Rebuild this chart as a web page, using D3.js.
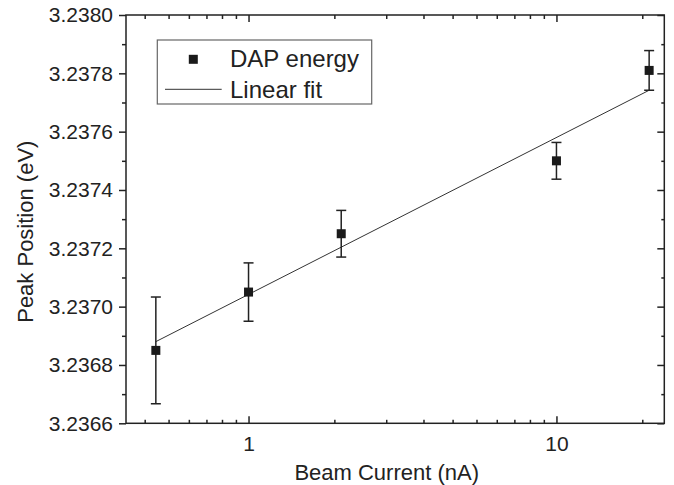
<!DOCTYPE html>
<html lang="en">

<head>
  <meta charset="UTF-8">
  <title>Peak Position vs Beam Current</title>
  <script type="text/javascript" src="https://d3js.org/d3.v7.min.js"></script>
  <style>
    body { margin: 0; background: #fff; }
    text { font-family: "Liberation Sans", Arial, sans-serif; fill: #222; }
  </style>
</head>

<body>
  <svg width="674" height="485"></svg>
  <script>

    // data
    var current = [0.5, 1, 2, 10, 20];                               // nA
    var peak = [3.23685, 3.23705, 3.23725, 3.23750, 3.23781];          // eV
    var peakErr = [0.000183, 0.000100, 0.000080, 0.000063, 0.000068];

    // linear fit  E = a + b*log10(I)
    var fitA = 3.237042;
    var fitB = 0.000538;

    // ticks
    var xMajor = [1, 10];
    var xMajorLabels = ["1", "10"];
    var xMinor = [0.46, 0.55, 0.64, 0.73, 0.82, 0.91, 1.9, 2.8, 3.7, 4.6, 5.5, 6.4, 7.3, 8.2, 9.1, 19];
    var yMajor = [3.2366, 3.2368, 3.2370, 3.2372, 3.2374, 3.2376, 3.2378, 3.2380];
    var yMajorLabels = ["3.2366", "3.2368", "3.2370", "3.2372", "3.2374", "3.2376", "3.2378", "3.2380"];
    var yMinor = [3.2367, 3.2369, 3.2371, 3.2373, 3.2375, 3.2377, 3.2379];

    var marge = { top: 15, left: 126, right: 9.7, bottom: 61.7 };
    var svg = d3.select("svg");
    var width = +svg.attr("width") - marge.left - marge.right;
    var height = +svg.attr("height") - marge.top - marge.bottom;
    var g = svg.append("g")
      .attr("transform", "translate(" + marge.left + "," + marge.top + ")");

    var x = d3.scaleLog().domain([0.4, 22.4]).range([0, width]);
    var y = d3.scaleLinear().domain([3.2366, 3.2380]).range([height, 0]);

    // axes: left ticks point out, the others point in
    function styleAxis(sel) {
      sel.select(".domain").remove();
      sel.selectAll("line").attr("stroke", "#222").attr("stroke-width", 1.5);
      sel.selectAll("text").attr("font-size", 21).attr("fill", "#222");
    }

    g.append("g")
      .call(d3.axisLeft(y).tickValues(yMajor).tickSize(7).tickPadding(6)
        .tickFormat(function (d, i) { return yMajorLabels[i]; }))
      .call(styleAxis);
    g.append("g")
      .call(d3.axisLeft(y).tickValues(yMinor).tickSize(4).tickFormat(""))
      .call(styleAxis);

    g.append("g")
      .attr("transform", "translate(" + width + ",0)")
      .call(d3.axisRight(y).tickValues(yMajor).tickSize(-7).tickFormat(""))
      .call(styleAxis);
    g.append("g")
      .attr("transform", "translate(" + width + ",0)")
      .call(d3.axisRight(y).tickValues(yMinor).tickSize(-3).tickFormat(""))
      .call(styleAxis);

    g.append("g")
      .attr("transform", "translate(0," + height + ")")
      .call(d3.axisBottom(x).tickValues(xMajor).tickSize(-7).tickPadding(13)
        .tickFormat(function (d, i) { return xMajorLabels[i]; }))
      .call(styleAxis);
    g.append("g")
      .attr("transform", "translate(0," + height + ")")
      .call(d3.axisBottom(x).tickValues(xMinor).tickSize(-3.5).tickFormat(""))
      .call(styleAxis);

    g.append("g")
      .call(d3.axisTop(x).tickValues(xMajor).tickSize(-7).tickFormat(""))
      .call(styleAxis);
    g.append("g")
      .call(d3.axisTop(x).tickValues(xMinor).tickSize(-4).tickFormat(""))
      .call(styleAxis);

    // frame
    g.append("rect")
      .attr("width", width)
      .attr("height", height)
      .attr("fill", "none")
      .attr("stroke", "#222")
      .attr("stroke-width", 1.5);

    // fit line over the data range
    var fitLine = d3.line()
      .x(function (d) { return x(d); })
      .y(function (d) { return y(fitA + fitB * Math.log10(d)); });
    g.append("path")
      .datum(d3.extent(current))
      .attr("d", fitLine)
      .attr("fill", "none")
      .attr("stroke", "#333")
      .attr("stroke-width", 1);

    // error bars
    var pts = current.map(function (c, i) { return { c: c, v: peak[i], e: peakErr[i] }; });
    var eb = g.selectAll(".err").data(pts).enter().append("g")
      .attr("stroke", "#222").attr("stroke-width", 1.5);
    eb.append("line")
      .attr("x1", function (d) { return x(d.c); })
      .attr("x2", function (d) { return x(d.c); })
      .attr("y1", function (d) { return y(d.v + d.e); })
      .attr("y2", function (d) { return y(d.v - d.e); });
    eb.append("line")
      .attr("x1", function (d) { return x(d.c) - 5; })
      .attr("x2", function (d) { return x(d.c) + 5; })
      .attr("y1", function (d) { return y(d.v + d.e); })
      .attr("y2", function (d) { return y(d.v + d.e); });
    eb.append("line")
      .attr("x1", function (d) { return x(d.c) - 5; })
      .attr("x2", function (d) { return x(d.c) + 5; })
      .attr("y1", function (d) { return y(d.v - d.e); })
      .attr("y2", function (d) { return y(d.v - d.e); });

    // square markers
    g.selectAll(".pt").data(pts).enter().append("rect")
      .attr("x", function (d) { return x(d.c) - 4.5; })
      .attr("y", function (d) { return y(d.v) - 4.5; })
      .attr("width", 9)
      .attr("height", 9)
      .attr("fill", "#1a1a1a");

    // axis titles
    svg.append("text")
      .attr("x", 386.7)
      .attr("y", 479.5)
      .attr("text-anchor", "middle")
      .attr("font-size", 22)
      .text("Beam Current (nA)");
    svg.append("text")
      .attr("transform", "translate(33,231.7) rotate(-90)")
      .attr("text-anchor", "middle")
      .attr("font-size", 22)
      .text("Peak Position (eV)");

    // legend
    var lg = svg.append("g");
    lg.append("rect")
      .attr("x", 157.3).attr("y", 40)
      .attr("width", 214.4).attr("height", 64)
      .attr("fill", "#fff")
      .attr("stroke", "#666")
      .attr("stroke-width", 1.2);
    lg.append("rect")
      .attr("x", 193.3 - 4.5).attr("y", 59.3 - 4.5)
      .attr("width", 9).attr("height", 9)
      .attr("fill", "#1a1a1a");
    lg.append("text")
      .attr("x", 230).attr("y", 66.7)
      .attr("font-size", 24)
      .text("DAP energy");
    lg.append("line")
      .attr("x1", 165).attr("x2", 221.7)
      .attr("y1", 89.3).attr("y2", 89.3)
      .attr("stroke", "#333").attr("stroke-width", 1);
    lg.append("text")
      .attr("x", 230).attr("y", 98)
      .attr("font-size", 24)
      .text("Linear fit");

  </script>
</body>

</html>
